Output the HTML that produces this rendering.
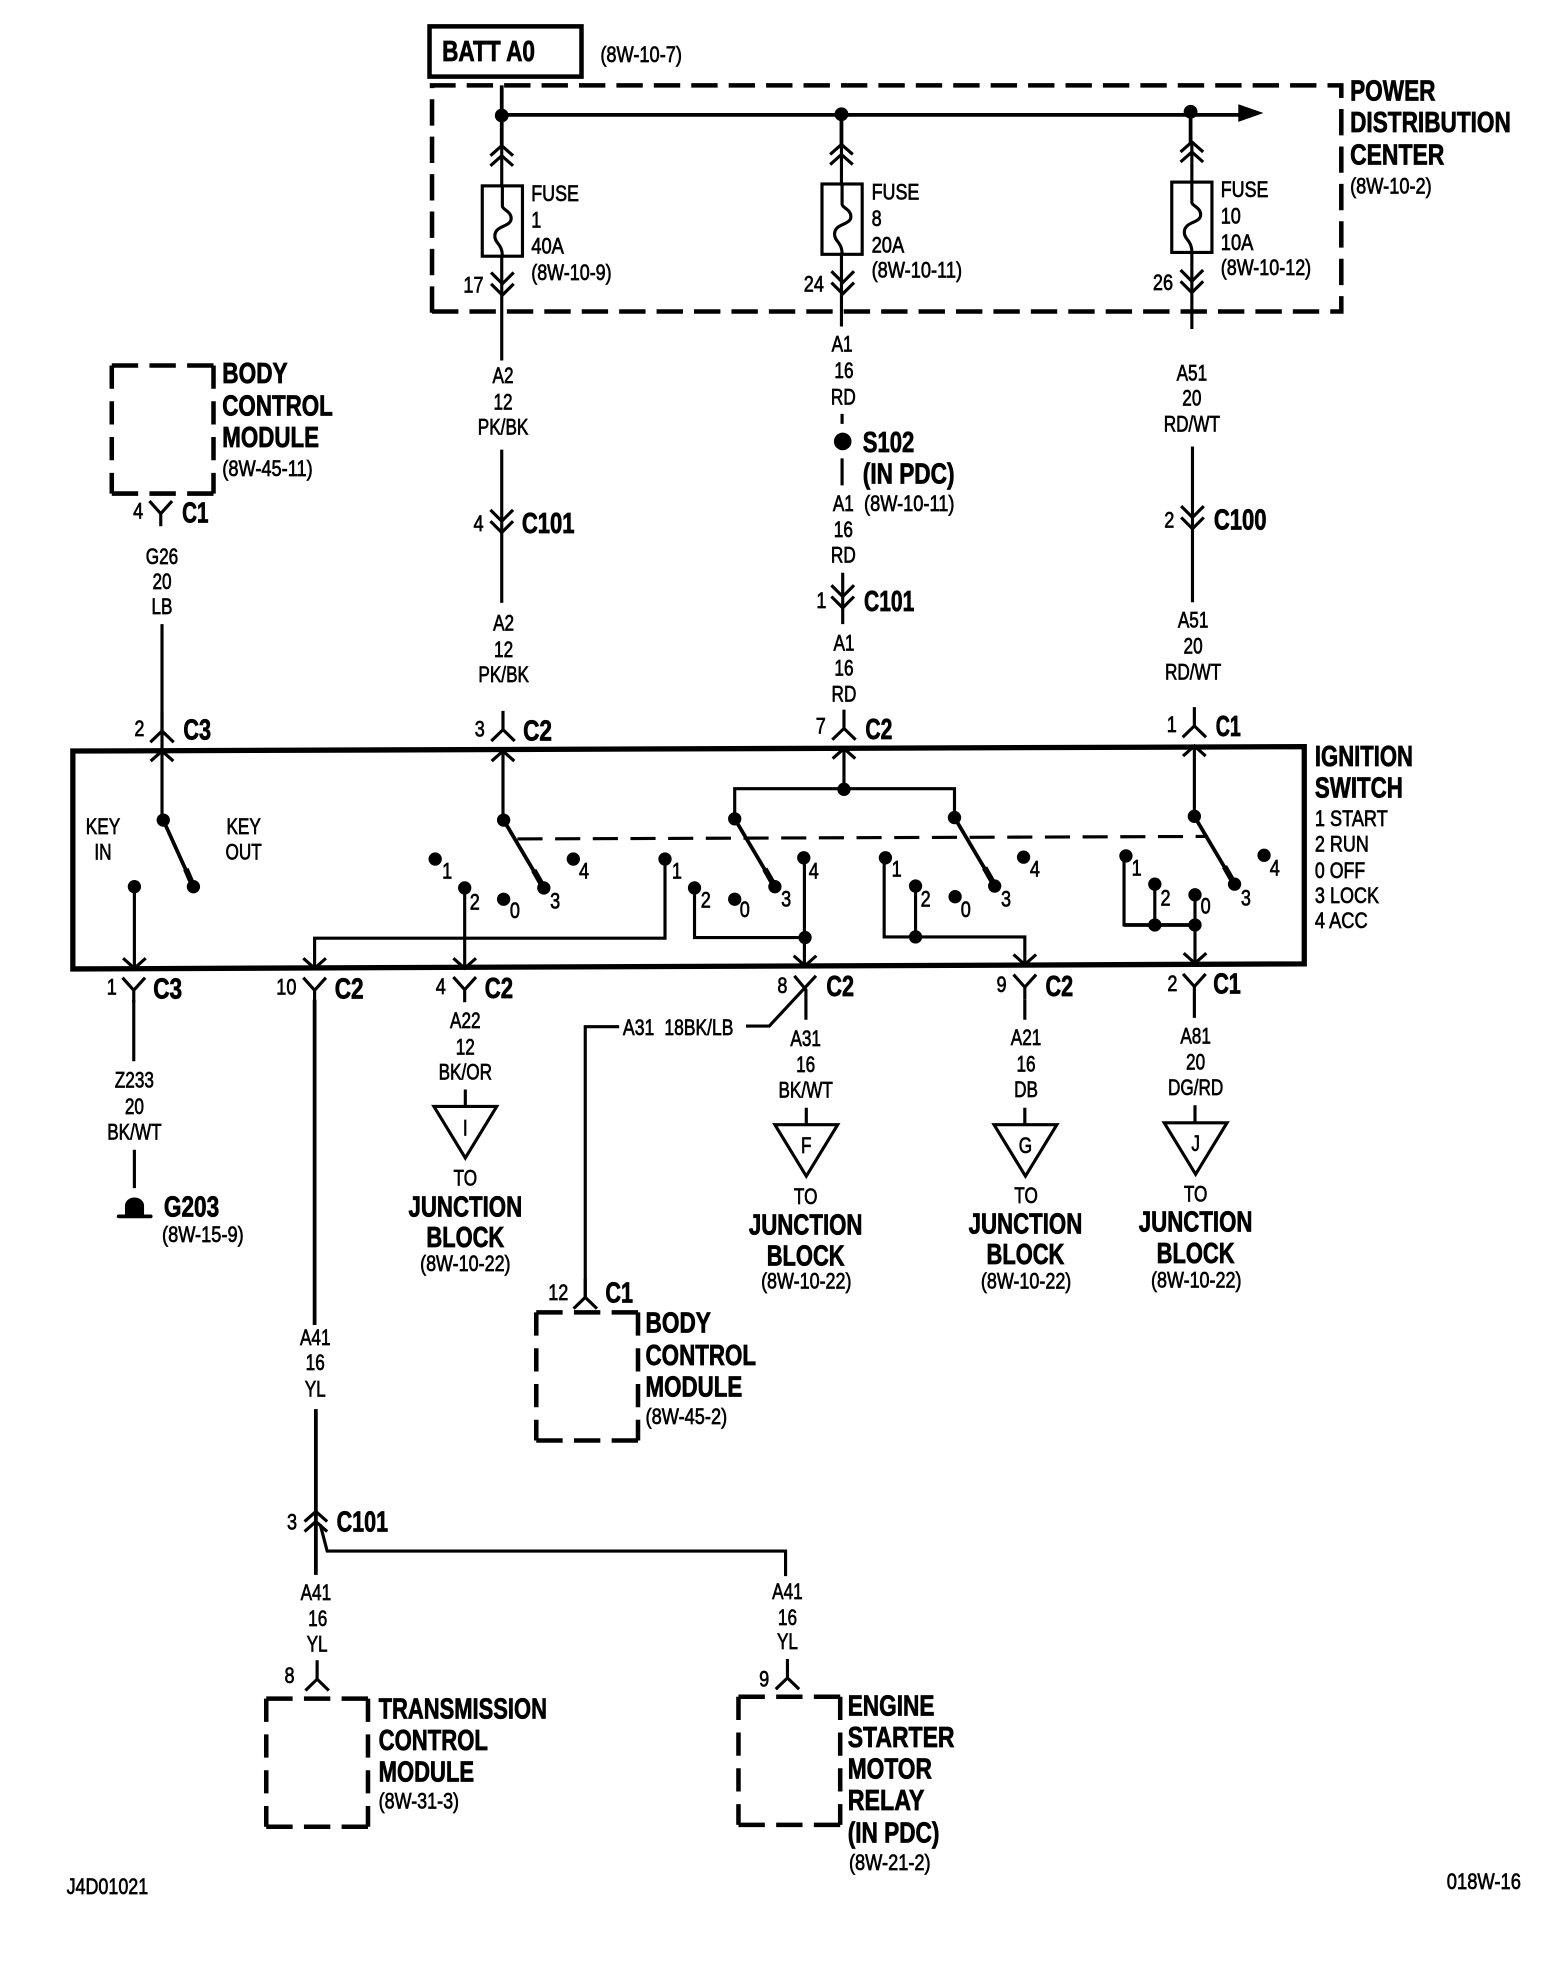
<!DOCTYPE html>
<html><head><meta charset="utf-8"><style>
html,body{margin:0;padding:0;background:#fff}
svg{display:block}
text{font-family:"Liberation Sans",sans-serif;fill:#000}
.s{font-size:18px;stroke:#000;stroke-width:.55}
.c{font-size:18px;stroke:#000;stroke-width:.55;text-anchor:middle;transform-box:fill-box;transform-origin:center;transform:scaleX(.76)}
.l{font-size:18px;stroke:#000;stroke-width:.55;transform-box:fill-box;transform-origin:0 50%;transform:scaleX(.8)}
.r{font-size:18px;stroke:#000;stroke-width:.55;text-anchor:middle}
.b{font-size:22.5px;font-weight:bold;stroke:#000;stroke-width:.6}
.bm{font-size:22.5px;font-weight:bold;stroke:#000;stroke-width:.6;text-anchor:middle}
.w{fill:none;stroke:#000;stroke-width:2.5}
.t{fill:none;stroke:#000;stroke-width:3}
.d{fill:none;stroke:#000;stroke-width:3.6;stroke-dasharray:21 8.8}
.dh{fill:none;stroke:#000;stroke-width:3.6;stroke-dasharray:21 9}
.dv{fill:none;stroke:#000;stroke-width:3.6;stroke-dasharray:18.5 10}
</style></head><body>
<svg xmlns="http://www.w3.org/2000/svg" width="1568" height="1968" viewBox="0 0 1248.5 1567">
<defs>
<path id="cu" class="w" d="M-9,8L0,0L9,8M-9,16L0,8L9,16"/>
<path id="cd" class="w" d="M-9,-9L0,0L9,-9M-9,-18L0,-9L9,-18"/>
<path id="yf" class="w" d="M-9,0L0,10L9,0M0,10V20"/>
<path id="af" class="w" d="M-9.3,0L0,-9L9.3,0M0,-9V-24"/>
<path id="au" class="w" d="M-9,8L0,0L9,8"/>
<path id="ad" class="w" d="M-9,-8L0,0L9,-8"/>
<g id="fu"><rect x="-16" y="-28" width="32" height="56" class="w"/><path class="w" d="M0,-28V-12C0,-9 7,-8 7,-2C7,5 -6,3 -6,12C-6,18 0,18 0,28"/></g>
<path id="jb" class="w" d="M-25,0H25L0,41Z"/>
<g id="bx"><path class="dh" d="M0,0H81M0,102H81"/><path class="dv" d="M0,0V102M81,0V102"/></g>
</defs>

<!-- batt -->
<rect x="342" y="21" width="121" height="40" fill="none" stroke="#000" stroke-width="3.6"/>
<text x="352" y="48.5" class="b" textLength="74" lengthAdjust="spacingAndGlyphs">BATT A0</text>
<text x="478" y="49.5" class="s" textLength="65" lengthAdjust="spacingAndGlyphs">(8W-10-7)</text>

<!-- PDC -->
<path class="d" d="M344,249V68H1068V248H344"/>
<text x="1075" y="80" class="b" textLength="68" lengthAdjust="spacingAndGlyphs">POWER</text>
<text x="1075" y="105" class="b" textLength="128" lengthAdjust="spacingAndGlyphs">DISTRIBUTION</text>
<text x="1075" y="131" class="b" textLength="75" lengthAdjust="spacingAndGlyphs">CENTER</text>
<text x="1075" y="154" class="s" textLength="65" lengthAdjust="spacingAndGlyphs">(8W-10-2)</text>

<path class="t" d="M399.5,68V116M399.5,91.5H990M670,91V116M948,89V114"/>
<path d="M986,83L1006,90L986,97Z"/>
<circle cx="399.5" cy="92" r="5.5"/><circle cx="670" cy="91" r="5.5"/><circle cx="948" cy="89" r="5.5"/>

<use href="#cu" x="399.5" y="116"/><use href="#cu" x="670" y="115"/><use href="#cu" x="949" y="113"/>
<path class="w" d="M399.5,116V287M670,116V260M949,114V262"/>
<rect x="385" y="149" width="30" height="54" fill="#fff"/><rect x="656" y="148" width="30" height="54" fill="#fff"/><rect x="934" y="146" width="30" height="54" fill="#fff"/>
<use href="#fu" x="400" y="176"/><use href="#fu" x="670.5" y="174.5"/><use href="#fu" x="949" y="173"/>
<use href="#cd" x="400" y="235"/><use href="#cd" x="671" y="234"/><use href="#cd" x="949" y="233"/>

<text x="423" y="160" class="s" textLength="38" lengthAdjust="spacingAndGlyphs">FUSE</text><text x="423" y="181" class="l">1</text><text x="423" y="202" class="s" textLength="26" lengthAdjust="spacingAndGlyphs">40A</text><text x="423" y="223" class="s" textLength="64" lengthAdjust="spacingAndGlyphs">(8W-10-9)</text>
<text x="694" y="159" class="s" textLength="38" lengthAdjust="spacingAndGlyphs">FUSE</text><text x="694" y="180" class="l">8</text><text x="694" y="201" class="s" textLength="26" lengthAdjust="spacingAndGlyphs">20A</text><text x="694" y="221" class="s" textLength="72" lengthAdjust="spacingAndGlyphs">(8W-10-11)</text>
<text x="972" y="157" class="s" textLength="38" lengthAdjust="spacingAndGlyphs">FUSE</text><text x="972" y="178" class="l">10</text><text x="972" y="199" class="s" textLength="26" lengthAdjust="spacingAndGlyphs">10A</text><text x="972" y="219" class="s" textLength="72" lengthAdjust="spacingAndGlyphs">(8W-10-12)</text>
<text x="369" y="233" class="l">17</text><text x="640" y="232" class="l">24</text><text x="918" y="231" class="l">26</text>

<!-- wire labels -->
<g>
<text x="400.5" y="305" class="c">A2</text><text x="400.5" y="326" class="c">12</text><text x="400.5" y="346" class="c">PK/BK</text>
<text x="401" y="502" class="c">A2</text><text x="401" y="523" class="c">12</text><text x="401" y="543" class="c">PK/BK</text>
<text x="670.5" y="280" class="c">A1</text><text x="672" y="301" class="c">16</text><text x="671.5" y="322" class="c">RD</text>
<text x="671.5" y="407" class="c">A1</text><text x="671.5" y="427.5" class="c">16</text><text x="671.5" y="448" class="c">RD</text>
<text x="672" y="518" class="c">A1</text><text x="672" y="538" class="c">16</text><text x="672" y="558.5" class="c">RD</text>
<text x="949" y="303" class="c">A51</text><text x="949" y="323" class="c">20</text><text x="949" y="343.5" class="c">RD/WT</text>
<text x="950" y="499.5" class="c">A51</text><text x="950" y="520.5" class="c">20</text><text x="950" y="541" class="c">RD/WT</text>
<text x="129" y="449" class="c">G26</text><text x="129" y="469" class="c">20</text><text x="129" y="489" class="c">LB</text>
<text x="107" y="866" class="c">Z233</text><text x="107" y="887" class="c">20</text><text x="107" y="907.5" class="c">BK/WT</text>
<text x="370.5" y="818.5" class="c">A22</text><text x="370.5" y="839.5" class="c">12</text><text x="370.5" y="859.5" class="c">BK/OR</text>
<text x="641.5" y="833" class="c">A31</text><text x="641.5" y="853.5" class="c">16</text><text x="641.5" y="874" class="c">BK/WT</text>
<text x="817" y="832" class="c">A21</text><text x="817" y="853" class="c">16</text><text x="817" y="873.5" class="c">DB</text>
<text x="952" y="831" class="c">A81</text><text x="952" y="851.5" class="c">20</text><text x="952" y="872" class="c">DG/RD</text>
<text x="251" y="1071" class="c">A41</text><text x="251" y="1091" class="c">16</text><text x="251" y="1112" class="c">YL</text>
<text x="251.5" y="1274" class="c">A41</text><text x="253" y="1294.5" class="c">16</text><text x="252.5" y="1315" class="c">YL</text>
<text x="627" y="1273" class="c">A41</text><text x="627" y="1294" class="c">16</text><text x="627" y="1313" class="c">YL</text>
<text x="370.5" y="944" class="c">TO</text><text x="641.5" y="958.5" class="c">TO</text><text x="817" y="958" class="c">TO</text><text x="952" y="956.5" class="c">TO</text>
</g>
<text x="370.5" y="1012" class="r" textLength="72" lengthAdjust="spacingAndGlyphs">(8W-10-22)</text><text x="642" y="1026" class="r" textLength="72" lengthAdjust="spacingAndGlyphs">(8W-10-22)</text><text x="817" y="1026" class="r" textLength="72" lengthAdjust="spacingAndGlyphs">(8W-10-22)</text><text x="952.5" y="1025" class="r" textLength="72" lengthAdjust="spacingAndGlyphs">(8W-10-22)</text>

<!-- col 1 -->
<path class="w" d="M399.5,358V480"/><use href="#cd" x="399.5" y="424"/>
<text x="377" y="423" class="l">4</text><text x="415.5" y="424.5" class="b" textLength="42" lengthAdjust="spacingAndGlyphs">C101</text>
<use href="#af" x="400.5" y="590"/><use href="#au" x="400.5" y="598"/>
<path class="w" d="M400.5,598V653"/>
<text x="378" y="586.5" class="l">3</text><text x="416.5" y="589.5" class="b" textLength="23" lengthAdjust="spacingAndGlyphs">C2</text>

<!-- col 2 lower -->
<path class="w" d="M670.5,329.5V337.5M670.5,365V386.5M671,456V497"/>
<circle cx="671" cy="351.5" r="7"/>
<text x="687" y="360" class="b" textLength="41" lengthAdjust="spacingAndGlyphs">S102</text>
<text x="687" y="385" class="b" textLength="73" lengthAdjust="spacingAndGlyphs">(IN PDC)</text>
<text x="688" y="407" class="s" textLength="72" lengthAdjust="spacingAndGlyphs">(8W-10-11)</text>
<use href="#cd" x="671" y="484"/>
<text x="650" y="484" class="l">1</text><text x="688" y="486.5" class="b" textLength="40" lengthAdjust="spacingAndGlyphs">C101</text>
<use href="#af" x="672" y="589"/><use href="#au" x="672" y="596"/>
<path class="w" d="M672,596V628"/>
<text x="649.5" y="584" class="l">7</text><text x="689" y="588.5" class="b" textLength="21.5" lengthAdjust="spacingAndGlyphs">C2</text>

<!-- col 3 lower -->
<path class="w" d="M949.5,355.5V479.5"/><use href="#cd" x="949.5" y="421"/>
<text x="927" y="420" class="l">2</text><text x="966.5" y="421.5" class="b" textLength="42" lengthAdjust="spacingAndGlyphs">C100</text>
<use href="#af" x="951" y="587"/><use href="#au" x="951" y="594"/>
<text x="929" y="583" class="l">1</text><text x="968" y="586" class="b" textLength="20" lengthAdjust="spacingAndGlyphs">C1</text>
<path class="w" d="M951,594V650"/>

<!-- BCM 1 -->
<use href="#bx" x="89" y="291"/>
<text x="177" y="305" class="b" textLength="52" lengthAdjust="spacingAndGlyphs">BODY</text>
<text x="177" y="331" class="b" textLength="88" lengthAdjust="spacingAndGlyphs">CONTROL</text>
<text x="177" y="356" class="b" textLength="77" lengthAdjust="spacingAndGlyphs">MODULE</text>
<text x="177" y="379" class="s" textLength="72" lengthAdjust="spacingAndGlyphs">(8W-45-11)</text>
<use href="#yf" x="128" y="399"/>
<text x="106" y="413" class="l">4</text><text x="145" y="416" class="b" textLength="21" lengthAdjust="spacingAndGlyphs">C1</text>
<path class="w" d="M129,497V653"/><use href="#af" x="129" y="591"/><use href="#au" x="129" y="598"/>
<text x="107" y="586" class="l">2</text><text x="146" y="589" class="b" textLength="22" lengthAdjust="spacingAndGlyphs">C3</text>

<!-- ignition box -->
<path fill="none" stroke="#000" stroke-width="4.2" d="M58,598L1038.5,594.5V767.5L58,771.5Z"/>
<text x="1047" y="610" class="b" textLength="78" lengthAdjust="spacingAndGlyphs">IGNITION</text>
<text x="1047" y="635" class="b" textLength="70" lengthAdjust="spacingAndGlyphs">SWITCH</text>
<text x="1047" y="657.5" class="s" textLength="58" lengthAdjust="spacingAndGlyphs">1 START</text>
<text x="1047" y="678" class="s" textLength="43" lengthAdjust="spacingAndGlyphs">2 RUN</text>
<text x="1047" y="699" class="s" textLength="40" lengthAdjust="spacingAndGlyphs">0 OFF</text>
<text x="1047" y="719" class="s" textLength="51" lengthAdjust="spacingAndGlyphs">3 LOCK</text>
<text x="1047" y="739" class="s" textLength="42" lengthAdjust="spacingAndGlyphs">4 ACC</text>
<text x="82" y="664" class="c">KEY</text><text x="82" y="684.5" class="c">IN</text><text x="194" y="664" class="c">KEY</text><text x="194" y="684.5" class="c">OUT</text>

<!-- switch arms -->
<path class="t" d="M130,653L154,706M401,653L433,707M585,652L617,706M760,651L792,705M951,650L983,704"/>
<path fill="none" stroke="#000" stroke-width="4.6" d="M148,692L154,706M425,693L433,707M609,692L617,706M784,691L792,705M975,690L983,704"/>
<path class="w" style="stroke-dasharray:20 10" d="M412,668L960,666"/>
<g>
<circle cx="130" cy="653" r="5.3"/><circle cx="154" cy="706" r="5.3"/><circle cx="107" cy="706" r="5.3"/>
<circle cx="401" cy="653" r="5.3"/><circle cx="346.5" cy="684" r="5.3"/><circle cx="370" cy="707" r="5.3"/><circle cx="401" cy="716" r="5.3"/><circle cx="433" cy="707" r="5.3"/><circle cx="456.5" cy="684" r="5.3"/>
<circle cx="529.5" cy="684" r="5.3"/><circle cx="553" cy="707" r="5.3"/><circle cx="585" cy="716" r="5.3"/><circle cx="617" cy="706" r="5.3"/><circle cx="640" cy="683" r="5.3"/><circle cx="585" cy="652" r="5.3"/><circle cx="760" cy="651" r="5.3"/><circle cx="672" cy="628.5" r="5.3"/><circle cx="641" cy="746.5" r="5.3"/>
<circle cx="705" cy="683" r="5.3"/><circle cx="729" cy="705.5" r="5.3"/><circle cx="760.5" cy="714" r="5.3"/><circle cx="792" cy="705.5" r="5.3"/><circle cx="815" cy="682.5" r="5.3"/><circle cx="729" cy="746" r="5.3"/>
<circle cx="896.5" cy="681.5" r="5.3"/><circle cx="919.5" cy="704" r="5.3"/><circle cx="951.5" cy="712.5" r="5.3"/><circle cx="951" cy="650" r="5.3"/><circle cx="983" cy="704" r="5.3"/><circle cx="1006.5" cy="681" r="5.3"/><circle cx="919.5" cy="736.5" r="5.3"/><circle cx="951.5" cy="736.5" r="5.3"/>
</g>
<path class="w" d="M107,706V771M370,707V771M529.5,684V747H250.5V771M553,707V746.5H641M640.5,683V770M585,652V628H760V651M704,683V746H816V768M729,705.5V746M895,681.5V736.5H951.5M919.5,704V736.5M951.5,712.5V767"/>
<path class="t" d="M895,736.5H951.5"/>
<g>
<text x="352" y="699.5" class="l">1</text><text x="374" y="724" class="l">2</text><text x="406" y="731" class="l">0</text><text x="438" y="723.5" class="l">3</text><text x="461" y="699.5" class="l">4</text>
<text x="535" y="699.5" class="l">1</text><text x="558" y="722.5" class="l">2</text><text x="589" y="730" class="l">0</text><text x="622" y="722" class="l">3</text><text x="644" y="699.5" class="l">4</text>
<text x="710" y="698" class="l">1</text><text x="733" y="722" class="l">2</text><text x="765" y="730" class="l">0</text><text x="797" y="722" class="l">3</text><text x="820" y="698" class="l">4</text>
<text x="901" y="697" class="l">1</text><text x="924" y="721" class="l">2</text><text x="956" y="727.5" class="l">0</text><text x="988" y="721" class="l">3</text><text x="1011" y="697" class="l">4</text>
</g>

<!-- arrows at bottom of box -->
<use href="#ad" x="107" y="771"/><use href="#ad" x="250.5" y="771"/><use href="#ad" x="370" y="771"/><use href="#ad" x="641" y="769"/><use href="#ad" x="816" y="768"/><use href="#ad" x="951.5" y="767"/>

<!-- bottom connectors -->
<use href="#yf" x="106.5" y="778.5"/><use href="#yf" x="250.5" y="778.5"/><use href="#yf" x="370" y="778"/><use href="#yf" x="816" y="776"/><use href="#yf" x="951" y="775.5"/>
<path class="w" d="M632.5,777L641.7,788V812M594,817H612.5L649.7,777M816,796V812M951,795V810.5"/>
<text x="85" y="792" class="l">1</text><text x="122" y="795" class="b" textLength="23" lengthAdjust="spacingAndGlyphs">C3</text>
<text x="220" y="792" class="l">10</text><text x="266.5" y="795" class="b" textLength="23" lengthAdjust="spacingAndGlyphs">C2</text>
<text x="347" y="791.5" class="l">4</text><text x="386" y="794.5" class="b" textLength="22.5" lengthAdjust="spacingAndGlyphs">C2</text>
<text x="619" y="790.5" class="l">8</text><text x="658" y="793" class="b" textLength="22" lengthAdjust="spacingAndGlyphs">C2</text>
<text x="793.5" y="790" class="l">9</text><text x="832.5" y="793" class="b" textLength="22" lengthAdjust="spacingAndGlyphs">C2</text>
<text x="929.5" y="789" class="l">2</text><text x="966" y="791" class="b" textLength="22" lengthAdjust="spacingAndGlyphs">C1</text>

<!-- Z233 / ground -->
<path class="w" d="M106.5,796V845M107,915.5V946"/>
<path d="M99.5,967V960A7.6,6.5 0 0 1 114.7,960V967Z"/><path class="t" d="M94.5,968.5H120" stroke-linecap="round"/>
<text x="130.5" y="968.5" class="b" textLength="44" lengthAdjust="spacingAndGlyphs">G203</text>
<text x="129" y="989" class="s" textLength="65" lengthAdjust="spacingAndGlyphs">(8W-15-9)</text>

<!-- junction triangles -->
<path class="w" d="M370.5,867.5V881M642,882V895.5M816,882V895.5M951.5,880V894"/>
<use href="#jb" x="370.5" y="881"/><use href="#jb" x="642" y="895.5"/><use href="#jb" x="816.5" y="895.5"/><use href="#jb" x="952" y="894"/>
<text x="370.5" y="904" class="c">I</text><text x="642" y="918" class="c">F</text><text x="816.5" y="918" class="c">G</text><text x="952" y="916.5" class="c">J</text>
<text x="370.5" y="968.5" class="bm" textLength="90.5" lengthAdjust="spacingAndGlyphs">JUNCTION</text><text x="370.5" y="993" class="bm" textLength="62" lengthAdjust="spacingAndGlyphs">BLOCK</text>
<text x="641.5" y="983" class="bm" textLength="90.5" lengthAdjust="spacingAndGlyphs">JUNCTION</text><text x="641.5" y="1007.5" class="bm" textLength="62" lengthAdjust="spacingAndGlyphs">BLOCK</text>
<text x="816.5" y="982" class="bm" textLength="90.5" lengthAdjust="spacingAndGlyphs">JUNCTION</text><text x="816.5" y="1006.5" class="bm" textLength="62" lengthAdjust="spacingAndGlyphs">BLOCK</text>
<text x="952" y="980.5" class="bm" textLength="90.5" lengthAdjust="spacingAndGlyphs">JUNCTION</text><text x="952" y="1005.5" class="bm" textLength="62" lengthAdjust="spacingAndGlyphs">BLOCK</text>

<!-- A31 branch -->
<path class="w" d="M493,817.5H466V1033"/>
<text x="496" y="824" class="s" textLength="25" lengthAdjust="spacingAndGlyphs">A31</text>
<text x="529" y="824" class="s" textLength="55" lengthAdjust="spacingAndGlyphs">18BK/LB</text>
<use href="#af" x="466" y="1042"/>
<text x="436.5" y="1035" class="l">12</text><text x="482" y="1037" class="b" textLength="22" lengthAdjust="spacingAndGlyphs">C1</text>
<use href="#bx" x="427" y="1045"/>
<text x="514" y="1061" class="b" textLength="52" lengthAdjust="spacingAndGlyphs">BODY</text>
<text x="514" y="1087" class="b" textLength="88" lengthAdjust="spacingAndGlyphs">CONTROL</text>
<text x="514" y="1112" class="b" textLength="77" lengthAdjust="spacingAndGlyphs">MODULE</text>
<text x="514" y="1134" class="s" textLength="65" lengthAdjust="spacingAndGlyphs">(8W-45-2)</text>

<!-- A41 -->
<path class="t" d="M250.5,796V1055M251.5,1122V1254"/>
<path class="w" d="M255,1214L260.5,1235H625.5V1255"/>
<use href="#cu" x="251.5" y="1203.5"/>
<text x="228.5" y="1218" class="l">3</text><text x="268" y="1219.5" class="b" textLength="41" lengthAdjust="spacingAndGlyphs">C101</text>
<use href="#af" x="252.5" y="1346"/><use href="#af" x="627" y="1345"/>
<text x="226.5" y="1340" class="l">8</text><text x="604.5" y="1343" class="l">9</text>
<use href="#bx" x="212" y="1352.5"/>
<text x="301.5" y="1368.5" class="b" textLength="134" lengthAdjust="spacingAndGlyphs">TRANSMISSION</text>
<text x="301.5" y="1393.5" class="b" textLength="87" lengthAdjust="spacingAndGlyphs">CONTROL</text>
<text x="301.5" y="1418.5" class="b" textLength="76" lengthAdjust="spacingAndGlyphs">MODULE</text>
<text x="301.5" y="1440" class="s" textLength="64" lengthAdjust="spacingAndGlyphs">(8W-31-3)</text>
<use href="#bx" x="588" y="1351"/>
<text x="675" y="1366" class="b" textLength="69" lengthAdjust="spacingAndGlyphs">ENGINE</text>
<text x="675" y="1391" class="b" textLength="85" lengthAdjust="spacingAndGlyphs">STARTER</text>
<text x="675" y="1416" class="b" textLength="67" lengthAdjust="spacingAndGlyphs">MOTOR</text>
<text x="675" y="1441" class="b" textLength="61" lengthAdjust="spacingAndGlyphs">RELAY</text>
<text x="675" y="1467" class="b" textLength="73" lengthAdjust="spacingAndGlyphs">(IN PDC)</text>
<text x="676" y="1489" class="s" textLength="65" lengthAdjust="spacingAndGlyphs">(8W-21-2)</text>

<text x="53" y="1508" class="s" textLength="65" lengthAdjust="spacingAndGlyphs">J4D01021</text>
<text x="1152" y="1504" class="s" textLength="59" lengthAdjust="spacingAndGlyphs">018W-16</text>
</svg>
</body></html>
